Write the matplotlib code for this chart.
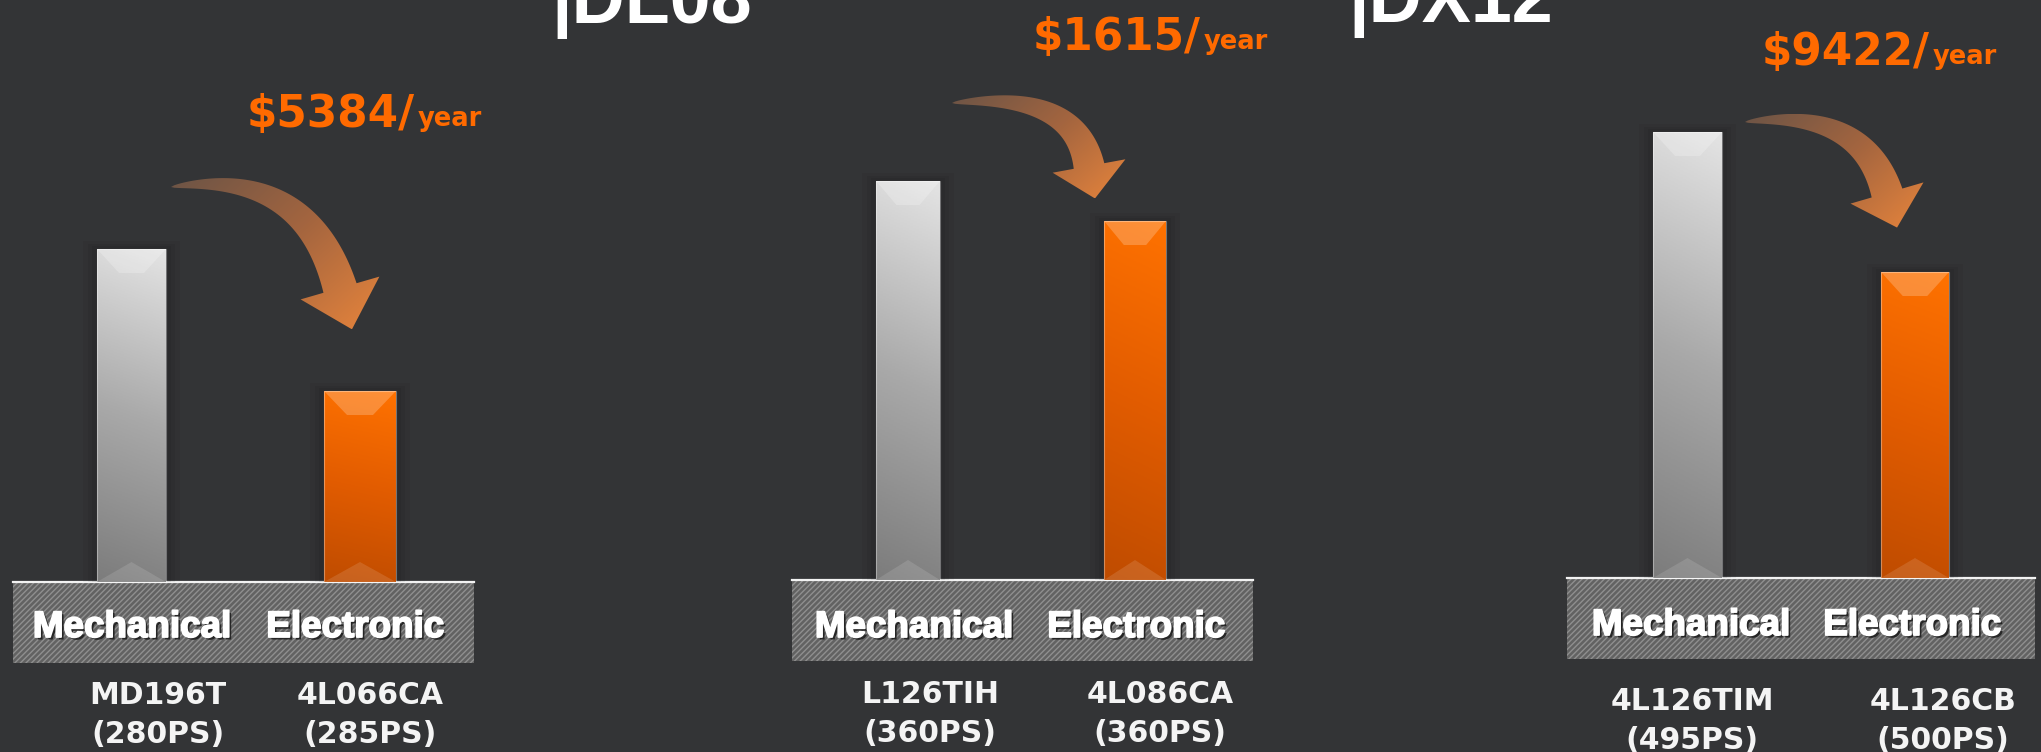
import numpy as np
import matplotlib
matplotlib.use('Agg')
import matplotlib.pyplot as plt
from matplotlib.patches import Rectangle, Polygon
from matplotlib.colors import LinearSegmentedColormap
import matplotlib.patheffects as pe

plt.rcParams['font.family'] = ['Liberation Sans', 'DejaVu Sans']
plt.rcParams['hatch.linewidth'] = 1.0

# --- data (bar heights are relative running-cost units, no axis shown) ---
titles = ['DL08', 'DX12']
categories = ['Mechanical', 'Electronic']
savings = ['$5384/', '$1615/', '$9422/']
mech_cost = [333, 399, 446]
elec_cost = [191, 359, 306]
mech_models = ['MD196T', 'L126TIH', '4L126TIM']
mech_power = ['(280PS)', '(360PS)', '(495PS)']
elec_models = ['4L066CA', '4L086CA', '4L126CB']
elec_power = ['(285PS)', '(360PS)', '(500PS)']

# --- layout (figure pixels, y up) ---
W, H = 2041, 752
BG = '#333436'
ORANGE = '#ff6a00'
plat_left = [13, 792, 1567]
plat_right = [474, 1253, 2035]
base_y = [170, 172, 174]
plat_h = 81
mech_x = [131.5, 908, 1687.5]
mech_w = [69, 64, 69]
elec_x = [360, 1135, 1915]
elec_w = [72, 62, 68]
cat_x = [(132, 355), (914, 1136), (1691, 1912)]
cat_y = [115, 115, 117]
model_x = [(158, 370), (930, 1160), (1692, 1943)]
model_y = [48, 49, 42]
save_xy = [(247, 625), (1033, 702), (1762, 687)]
title_xy = [(551, 729), (1348, 730)]
arrows = [
    dict(tail=(171, 565), ctrl=(305, 585), base=(340, 464), head_len=43, half_span=41),
    dict(tail=(952, 649), ctrl=(1075, 662), base=(1089, 586), head_len=33, half_span=37),
    dict(tail=(1745, 630), ctrl=(1862, 645), base=(1887, 559), head_len=36, half_span=38),
]

grey_cmap = LinearSegmentedColormap.from_list('g', ['#7c7c7c', '#a9a9a9', '#e4e4e4'])
orange_cmap = LinearSegmentedColormap.from_list('o', ['#bf4c00', '#e25c00', '#ff7200'])
arrow_cmap = LinearSegmentedColormap.from_list('a', ['#6c5446', '#a4653f', '#e6843c'])


def arrow_polygon(tail, ctrl, base, head_len, half_span, body_frac=0.42, n=80):
    t = np.linspace(0, 1, n)
    p0, p1, p2 = map(np.array, (tail, ctrl, base))
    pts = ((1 - t)**2)[:, None] * p0 + (2 * (1 - t) * t)[:, None] * p1 + (t**2)[:, None] * p2
    d = 2 * (1 - t)[:, None] * (p1 - p0) + 2 * t[:, None] * (p2 - p1)
    d /= np.linalg.norm(d, axis=1)[:, None]
    nrm = np.column_stack([-d[:, 1], d[:, 0]])
    w = half_span * body_frac * t**0.6
    left = pts + nrm * w[:, None]
    right = pts - nrm * w[:, None]
    tip = p2 + d[-1] * head_len
    poly = np.vstack([left, p2 + nrm[-1] * half_span, tip,
                      p2 - nrm[-1] * half_span, right[::-1]])
    return poly, tip


def gradient_fill(ax, patch, cmap, direction, z):
    x0, y0, x1, y1 = patch.get_path().get_extents(patch.get_patch_transform()).extents
    xs = np.linspace(0, 1, 64)
    ys = np.linspace(0, 1, 256)
    X, Y = np.meshgrid(xs, ys)
    val = X * direction[0] + Y * direction[1]
    val = (val - val.min()) / (val.max() - val.min())
    im = ax.imshow(val, cmap=cmap, extent=[x0, x1, y0, y1], origin='lower',
                   aspect='auto', zorder=z, interpolation='bilinear')
    im.set_clip_path(patch)


fig = plt.figure(figsize=(W / 100, H / 100), dpi=100)
fig.patch.set_facecolor(BG)
ax = fig.add_axes([0, 0, 1, 1])
ax.set_facecolor(BG)
ax.set_xlim(0, W)
ax.set_ylim(0, H)
ax.set_autoscale_on(False)
ax.axis('off')

for i in range(3):
    # platform
    plat = Rectangle((plat_left[i], base_y[i] - plat_h), plat_right[i] - plat_left[i], plat_h,
                     facecolor='#626262', edgecolor='#8f8f8f', hatch='//////', lw=0, zorder=1)
    ax.add_patch(plat)
    ax.plot([plat_left[i], plat_right[i]], [base_y[i], base_y[i]], color='#f2f2f2', lw=1.6, zorder=2)

    # bars
    bars = ax.bar([mech_x[i], elec_x[i]], [mech_cost[i], elec_cost[i]],
                  width=[mech_w[i], elec_w[i]], bottom=base_y[i],
                  color='none', edgecolor='none', zorder=3)
    for bar, cmap in zip(bars, [grey_cmap, orange_cmap]):
        bx, by, bw, bh = bar.get_x(), bar.get_y(), bar.get_width(), bar.get_height()
        # soft shadow around bar
        for k, a in [(14, 0.04), (9, 0.05), (5, 0.06)]:
            ax.add_patch(Rectangle((bx - k, by), bw + 2 * k, bh + k * 0.6,
                                   facecolor='black', edgecolor='none', alpha=a, zorder=2.5))
        gradient_fill(ax, bar, cmap, (0.08, 1.0), 3.1)
        dx, dy = bw * 0.32, 24
        ax.add_patch(Polygon([(bx, by + bh), (bx + bw, by + bh), (bx + bw - dx, by + bh - dy),
                              (bx + dx, by + bh - dy)], closed=True, facecolor='white',
                             edgecolor='none', alpha=0.22, zorder=3.2))
        ax.add_patch(Polygon([(bx, by), (bx + bw, by), (bx + bw / 2, by + 20)], closed=True,
                             facecolor='white', edgecolor='none', alpha=0.12, zorder=3.2))
        ax.add_patch(Rectangle((bx, by), bw, bh, facecolor='none', edgecolor='white',
                               lw=0.8, alpha=0.35, zorder=3.3))

    # category labels
    for cx, cat in zip(cat_x[i], categories):
        ax.text(cx, cat_y[i], cat, ha='center', va='baseline', color='white',
                fontsize=26.5, fontweight='bold', zorder=5,
                path_effects=[pe.withSimplePatchShadow(offset=(1.8, -1.8),
                                                       shadow_rgbFace='#1e1e1e', alpha=0.9),
                              pe.withStroke(linewidth=1.3, foreground='white')])

    # model labels
    for mx, model, power in zip(model_x[i], [mech_models[i], elec_models[i]],
                                [mech_power[i], elec_power[i]]):
        ax.text(mx, model_y[i], model, ha='center', va='baseline', color='#f4f4f4',
                fontsize=21.5, fontweight='bold', family='DejaVu Sans', zorder=5)
        ax.text(mx, model_y[i] - 39, power, ha='center', va='baseline', color='#f4f4f4',
                fontsize=21.5, fontweight='bold', family='DejaVu Sans', zorder=5)

    # savings
    sx, sy = save_xy[i]
    t1 = ax.text(sx, sy, savings[i], ha='left', va='baseline', color=ORANGE,
                 fontsize=31.5, fontweight='bold', family='DejaVu Sans', zorder=5)
    ax.annotate('year', xy=(1, 0), xycoords=t1, xytext=(2, 3), textcoords='offset points',
                ha='left', va='bottom', color=ORANGE, fontsize=18.5, fontweight='bold',
                family='DejaVu Sans', zorder=5)

    # curved arrow
    poly, tip = arrow_polygon(**arrows[i])
    arr = Polygon(poly, closed=True, facecolor='none', edgecolor='none', zorder=4)
    ax.add_patch(arr)
    vec = tip - np.array(arrows[i]['tail'])
    gradient_fill(ax, arr, arrow_cmap, (vec[0] / np.abs(vec).sum(), vec[1] / np.abs(vec).sum()), 4)

for (tx, ty), title in zip(title_xy, titles):
    ax.text(tx, ty, '|' + title, ha='left', va='baseline', color='white',
            fontsize=53, fontweight='bold', zorder=5)

ax.set_xlim(0, W)
ax.set_ylim(0, H)
fig.savefig('out.png', dpi=100, facecolor=BG)
